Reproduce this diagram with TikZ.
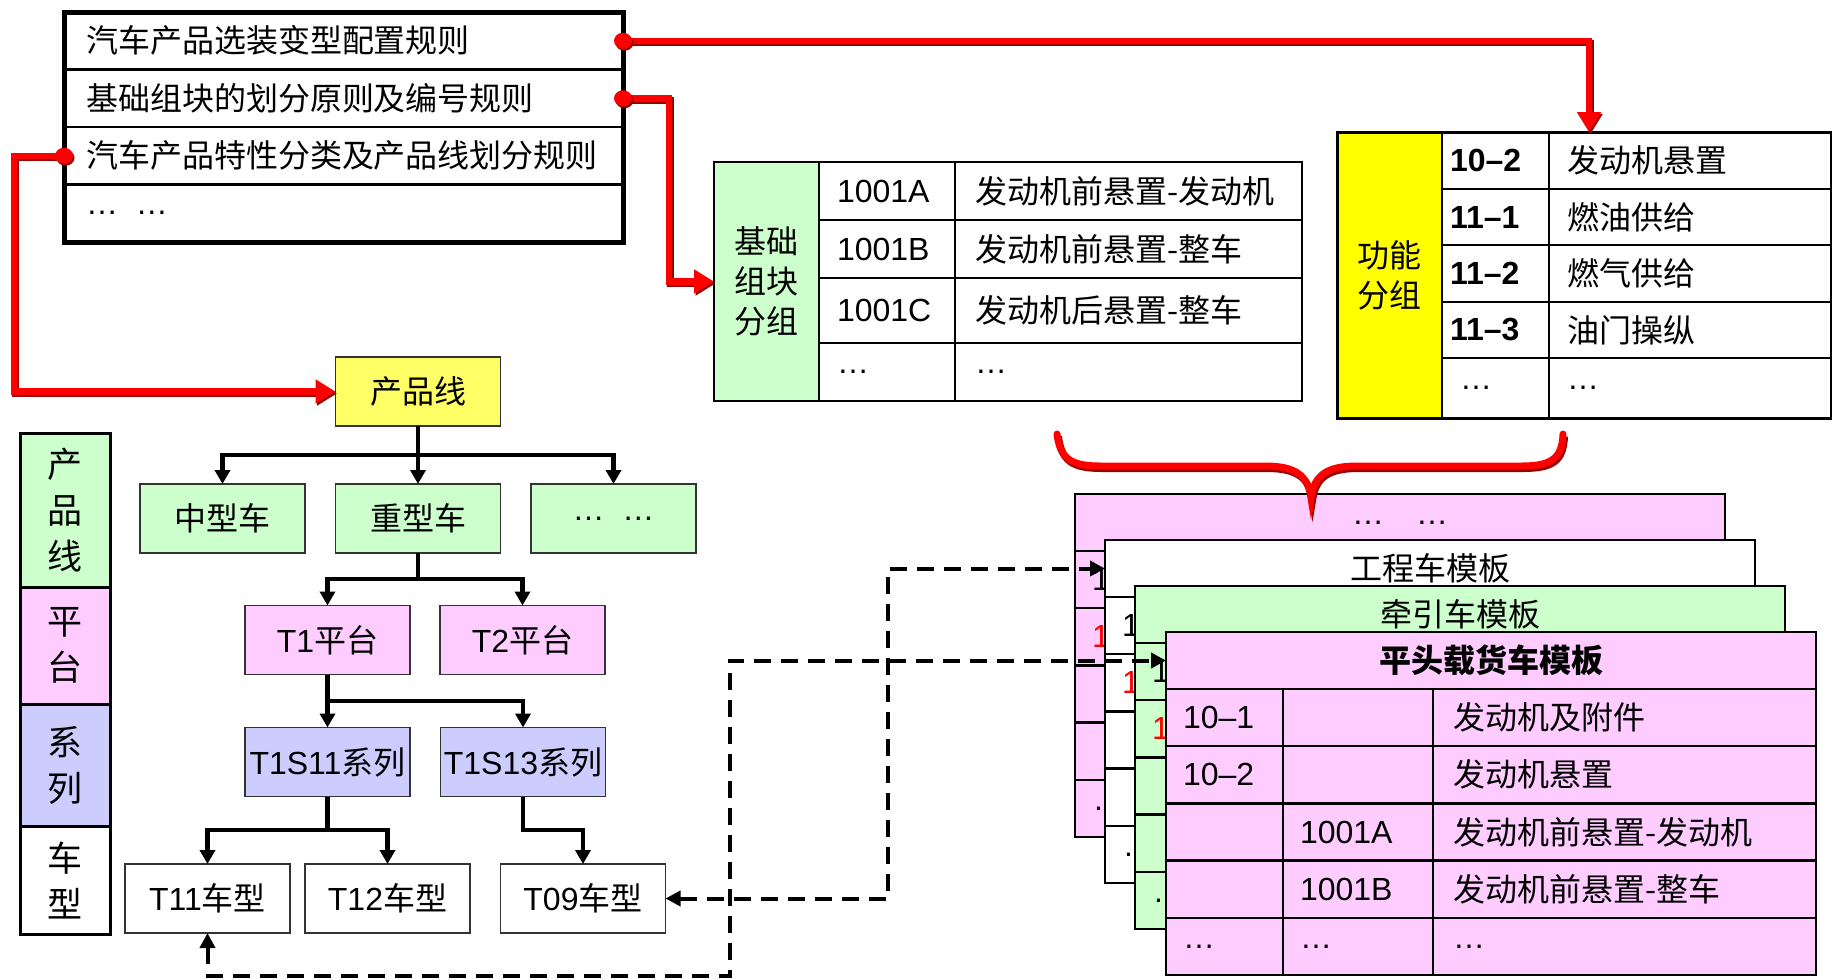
\documentclass[tikz,border=0pt]{standalone}
\usepackage{fontspec}
\setmainfont{Noto Sans CJK SC}
\newfontfamily\lat{Liberation Sans}
\usetikzlibrary{arrows.meta,calc}
\definecolor{lgreen}{HTML}{CCFFCC}
\definecolor{lpink}{HTML}{FFCCFF}
\definecolor{lblue}{HTML}{CCCCFF}
\definecolor{lyellow}{HTML}{FFFF66}
\definecolor{byellow}{HTML}{FFFF00}
\definecolor{dred}{HTML}{990000}
\definecolor{rred}{HTML}{FF0000}
\newcommand\fs{\fontsize{32}{38}\selectfont}
% template grid: #1 name, #2 x, #3 y, #4 fill, #5 title
\newcommand\tgrid[5]{%
\begin{scope}[shift={(#2,#3)}]
 \node[cell, fill=#4, minimum width=650pt, minimum height=57pt] (#1h) at (0,0) {};
 \node[txt] (#1t) at (#1h.center) {#5};
 \foreach \xn/\xy in {1/57, 2/114.2, 3/171.4, 4/228.6, 5/285.8} {
   \node[cell, fill=#4, minimum width=117pt, minimum height=57.2pt] (#1a\xn) at (0,\xy) {};
   \node[cell, fill=#4, minimum width=150pt, minimum height=57.2pt] (#1b\xn) at (117,\xy) {};
   \node[cell, fill=#4, minimum width=383pt, minimum height=57.2pt] (#1c\xn) at (267,\xy) {};
 }
\end{scope}}
% visible fragments of the first column of a back template
\newcommand\tback[1]{%
 \node[txt, anchor=west] (#1f1) at ($(#1a1.west)+(17,0)$) {\lat 1};
 \node[txt, anchor=west, text=red] (#1f2) at ($(#1a2.west)+(17,0)$) {\lat 1};
 \node[txt, anchor=west] (#1f5) at ($(#1a5.west)+(19,0)$) {\lat .};
}
\begin{document}
\begin{tikzpicture}[x=1pt,y=-1pt,
  txt/.style={font=\fs, inner sep=0pt, outer sep=0pt},
  cell/.style={draw=black, line width=2.5pt, inner sep=0pt, outer sep=0pt, anchor=north west, font=\fs},
  tbox/.style={draw=black!80, line width=1.8pt, minimum width=165pt, minimum height=69pt, inner sep=0pt, outer sep=0pt, font=\fs},
  leg/.style={draw=black, line width=3pt, minimum width=90pt, inner sep=0pt, outer sep=0pt, align=center, font=\fontsize{35}{46}\selectfont},
  rrow/.style={draw=black, line width=2.5pt, minimum width=559pt, minimum height=57.5pt, text width=515pt, align=left, inner xsep=22pt, inner ysep=0pt, outer sep=0pt, font=\fs},
  tline/.style={line width=4.5pt},
  tarrow/.style={line width=4.5pt, -{Triangle[width=15pt,length=14pt]}},
  redc/.style={line width=6.5pt, rred, -{Triangle[width=23pt,length=20pt]},
     preaction={draw=dred, line width=6.5pt, transform canvas={shift={(1.5pt,-2pt)}}}},
  dashc/.style={line width=4pt, dash pattern=on 17pt off 10pt, {Triangle[width=15pt,length=15pt]}-{Triangle[width=15pt,length=15pt]}},
]
\useasboundingbox (0,0) rectangle (1832,980);
\fill[white] (0,0) rectangle (1832,980);

% rule box
\node[rrow] (r1) at (343.5,40.75) {汽车产品选装变型配置规则};
\node[rrow] (r2) at (343.5,98.25) {基础组块的划分原则及编号规则};
\node[rrow] (r3) at (343.5,155.75) {汽车产品特性分类及产品线划分规则};
\node[rrow] (r4) at (343.5,213.25) {\lat …\hspace{18pt}…};
\draw[line width=5pt] (r1.north west) rectangle (r4.south east);

% basic group table
\node[cell, anchor=center, fill=lgreen, minimum width=105pt, minimum height=239pt, align=center, font=\fontsize{32}{40}\selectfont] (jz) at (766.5,281.5) {基础\\组块\\分组};
\foreach \xn/\xy/\xh/\xa/\xb in {1/162/58/1001A/发动机前悬置-发动机, 2/220/58/1001B/发动机前悬置-整车, 3/278/65/1001C/发动机后悬置-整车, 4/343/58/…/{\lat …}} {
  \node[cell, minimum width=136pt, minimum height=\xh pt] (jb\xn) at (819,\xy) {};
  \node[cell, minimum width=347pt, minimum height=\xh pt] (jc\xn) at (955,\xy) {};
  \node[txt, anchor=west] (jbt\xn) at ($(jb\xn.west)+(18,0)$) {\lat \xa};
  \node[txt, anchor=west] (jct\xn) at ($(jc\xn.west)+(20,0)$) {\xb};
}

% function group table
\node[cell, fill=byellow, minimum width=105pt, minimum height=286pt, align=center, font=\fontsize{32}{40}\selectfont] (fz) at (1337,132) {功能\\分组};
\foreach \xn/\xy/\xh/\xa/\xb/\xo in {1/132/57/10–2/发动机悬置/8, 2/189/56/11–1/燃油供给/8, 3/245/57/11–2/燃气供给/8, 4/302/56/11–3/油门操纵/8, 5/358/60/…/{\lat …}/18} {
  \node[cell, minimum width=107pt, minimum height=\xh pt] (fb\xn) at (1442,\xy) {};
  \node[cell, minimum width=282pt, minimum height=\xh pt] (fc\xn) at (1549,\xy) {};
  \node[txt, anchor=west] (fbt\xn) at ($(fb\xn.west)+(\xo,0)$) {\lat\ifnum\xn<5 \bfseries\fi \xa};
  \node[txt, anchor=west] (fct\xn) at ($(fc\xn.west)+(18,0)$) {\xb};
}
\draw[line width=3pt] (fz.north west) rectangle (fc5.south east);

% legend
\node[leg, fill=lgreen, minimum height=154pt] (L1) at (65,510) {产\\品\\线};
\node[leg, fill=lpink, minimum height=117pt] (L2) at (65,645.5) {平\\台};
\node[leg, fill=lblue, minimum height=122pt] (L3) at (65,765) {系\\列};
\node[leg, fill=white, minimum height=108pt] (L4) at (65,880) {车\\型};

% tree
\node[tbox, fill=lyellow] (cpx) at (418,391.5) {产品线};
\node[tbox, fill=lgreen] (zx) at (222.5,518.5) {中型车};
\node[tbox, fill=lgreen] (zh) at (418,518.5) {重型车};
\node[tbox, fill=lgreen] (zd) at (613.5,518.5) {\lat …\hspace{18pt}…};
\node[tbox, fill=lpink] (t1) at (327.5,640) {{\lat T1}平台};
\node[tbox, fill=lpink] (t2) at (522.5,640) {{\lat T2}平台};
\node[tbox, fill=lblue] (s11) at (327.5,762) {{\lat T1S11}系列};
\node[tbox, fill=lblue] (s13) at (523,762) {{\lat T1S13}系列};
\node[tbox, fill=white] (c11) at (207.5,898.5) {{\lat T11}车型};
\node[tbox, fill=white] (c12) at (387.5,898.5) {{\lat T12}车型};
\node[tbox, fill=white] (c09) at (583,898.5) {{\lat T09}车型};

\coordinate (h1) at (0,455);
\coordinate (h2) at (0,579);
\coordinate (h3) at (0,701);
\coordinate (h4) at (0,830);
\draw[tline] (cpx.south) -- (cpx.south |- h1);
\draw[tarrow] (cpx.south |- h1) -| (zx.north);
\draw[tarrow] (cpx.south |- h1) -| (zd.north);
\draw[tarrow] (cpx.south |- h1) -- (zh.north);
\draw[tline] (zh.south) -- (zh.south |- h2);
\draw[tarrow] (zh.south |- h2) -| (t1.north);
\draw[tarrow] (zh.south |- h2) -| (t2.north);
\draw[tarrow] (t1.south) -- (s11.north);
\draw[tarrow] (t1.south |- h3) -| (s13.north);
\draw[tline] (s11.south) -- (s11.south |- h4);
\draw[tarrow] (s11.south |- h4) -| (c11.north);
\draw[tarrow] (s11.south |- h4) -| (c12.north);
\draw[tarrow] (s13.south) |- (c09.north |- h4) -- (c09.north);

% templates (back to front)
\tgrid{P}{1075}{494}{lpink}{\lat …\hspace{32pt}…}
\tback{P}
\tgrid{W}{1105}{540}{white}{工程车模板}
\tback{W}
\tgrid{G}{1135}{586}{lgreen}{牵引车模板}
\tback{G}
\tgrid{F}{1166}{632}{lpink}{\bfseries 平头载货车模板}
\foreach \xn/\xa/\xb/\xc in {1/10–1//发动机及附件, 2/10–2//发动机悬置, 3//1001A/发动机前悬置-发动机, 4//1001B/发动机前悬置-整车, 5/…/…/{\lat …}} {
  \node[txt, anchor=west] (Fat\xn) at ($(Fa\xn.west)+(17,0)$) {\lat \xa};
  \node[txt, anchor=west] (Fbt\xn) at ($(Fb\xn.west)+(17,0)$) {\lat \xb};
  \node[txt, anchor=west] (Fct\xn) at ($(Fc\xn.west)+(20,0)$) {\xc};
}

% red connectors
\coordinate (fin) at ($(fc1.north west)+(40,0)$);
\draw[redc] (r1.east) -| (fin);
\draw[redc] (r2.east) -- ++(46,0) |- (jz.west);
\draw[redc] (r3.west) -- ++(-50,0) |- (cpx.west);
\foreach \p in {r1.east, r2.east, r3.west} {
  \fill[dred] ($(\p)+(1.5,2)$) ellipse (9pt and 8pt);
  \fill[rred] (\p) ellipse (9pt and 8pt);
}

% brace
\draw[line width=7pt, rred, line cap=round,
  preaction={draw=dred, line width=7pt, transform canvas={shift={(1.5pt,-2.5pt)}}}]
  (1057,434) .. controls (1060,458) and (1070,466) .. (1100,466) -- (1265,466)
  .. controls (1295,466) and (1308,475) .. (1311,498)
  .. controls (1314,475) and (1327,466) .. (1357,466) -- (1522,466)
  .. controls (1552,466) and (1562,458) .. (1563,434);

% dashed connectors
\coordinate (dA) at (888,568.5);
\coordinate (dB) at (730,976);
\draw[dashc] (c09.east) -| (dA) -- (Wh.west);
\draw[dashc] (c11.south) |- (dB) |- (Fh.west);
\end{tikzpicture}
\end{document}
